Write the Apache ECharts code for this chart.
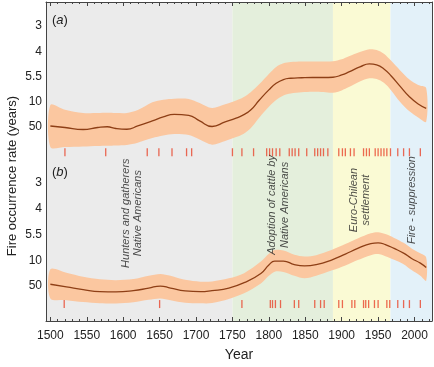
<!DOCTYPE html>
<html>
<head>
<meta charset="utf-8">
<script src="https://cdn.jsdelivr.net/npm/echarts@6/dist/echarts.min.js"></script>
<style>
  html, body { margin: 0; padding: 0; background: #fff; }
  #chart { width: 434px; height: 367px; }
</style>
</head>
<body>
<div id="chart"></div>
<script>
// x axis
const yearMin = 1494
const yearMax = 2024
const majorYears = [1500, 1550, 1600, 1650, 1700, 1750, 1800, 1850, 1900, 1950, 2000]
const minorYears = [1500, 1510, 1520, 1530, 1540, 1550, 1560, 1570, 1580, 1590, 1600, 1610, 1620, 1630, 1640, 1650, 1660, 1670, 1680, 1690, 1700, 1710, 1720, 1730, 1740, 1750, 1760, 1770, 1780, 1790, 1800, 1810, 1820, 1830, 1840, 1850, 1860, 1870, 1880, 1890, 1900, 1910, 1920, 1930, 1940, 1950, 1960, 1970, 1980, 1990, 2000, 2010, 2020]

// y axis: labels are evenly spaced, position 0..4
const yTickPos = [0, 1, 2, 3, 4]
const yTickLabels = ['50', '10', '5.5', '4', '3']

// periods (background)
const periodStart = [1494, 1750, 1888, 1967]
const periodEnd = [1750, 1888, 1967, 2024]

// panel (a)
const yearsA = [1500, 1520, 1545, 1565, 1578, 1590, 1605, 1620, 1640, 1655, 1670, 1690, 1705, 1722, 1740, 1755, 1765, 1775, 1787, 1800, 1810, 1820, 1830, 1845, 1860, 1875, 1888, 1900, 1910, 1925, 1938, 1948, 1958, 1968, 1980, 1993, 2005, 2016]
const lineA = [0.04, -0.02, -0.1, -0.02, 0.01, -0.06, -0.09, 0.04, 0.24, 0.4, 0.5, 0.46, 0.24, 0.02, 0.2, 0.35, 0.48, 0.67, 1.07, 1.47, 1.73, 1.88, 1.93, 1.95, 1.96, 1.96, 1.97, 2.06, 2.18, 2.38, 2.5, 2.46, 2.3, 2.02, 1.62, 1.2, 0.91, 0.74]
const upperA = [0.87, 0.68, 0.55, 0.55, 0.56, 0.55, 0.55, 0.67, 0.98, 1.08, 1.12, 1.11, 0.95, 0.75, 0.9, 1.05, 1.18, 1.38, 1.7, 2.1, 2.38, 2.52, 2.57, 2.59, 2.59, 2.59, 2.6, 2.68, 2.8, 2.97, 3.08, 3.05, 2.9, 2.62, 2.25, 1.88, 1.66, 1.54]
const lowerA = [-0.79, -0.79, -0.77, -0.75, -0.74, -0.73, -0.71, -0.62, -0.44, -0.34, -0.28, -0.32, -0.5, -0.7, -0.55, -0.4, -0.28, -0.05, 0.38, 0.8, 1.07, 1.25, 1.33, 1.38, 1.4, 1.39, 1.36, 1.45, 1.58, 1.8, 1.93, 1.9, 1.75, 1.45, 1.0, 0.62, 0.38, 0.21]
const fireYearsA = [1520, 1576, 1633, 1649, 1667, 1687, 1694, 1750, 1763, 1779, 1797, 1801, 1805, 1810, 1815, 1828, 1832, 1836, 1841, 1852, 1863, 1867, 1871, 1875, 1881, 1896, 1901, 1905, 1912, 1917, 1930, 1934, 1938, 1946, 1950, 1954, 1958, 1962, 1967, 1977, 1985, 1993, 2008]

// panel (b)
const yearsB = [1500, 1522, 1545, 1568, 1590, 1614, 1635, 1651, 1665, 1685, 1706, 1722, 1745, 1766, 1789, 1800, 1808, 1820, 1835, 1849, 1865, 1886, 1905, 1922, 1940, 1950, 1960, 1972, 1985, 1996, 2008, 2016]
const lineB = [0.07, -0.03, -0.14, -0.22, -0.23, -0.18, -0.08, 0.0, -0.08, -0.19, -0.22, -0.18, -0.08, 0.13, 0.49, 0.82, 0.97, 0.97, 0.83, 0.78, 0.83, 1.01, 1.24, 1.46, 1.65, 1.68, 1.61, 1.46, 1.28, 1.07, 0.89, 0.72]
const upperB = [0.65, 0.52, 0.36, 0.26, 0.23, 0.27, 0.4, 0.47, 0.4, 0.24, 0.17, 0.18, 0.3, 0.5, 0.95, 1.25, 1.4, 1.38, 1.22, 1.15, 1.2, 1.4, 1.63, 1.85, 2.05, 2.09, 2.02, 1.87, 1.68, 1.46, 1.27, 1.11]
const lowerB = [-0.48, -0.55, -0.62, -0.67, -0.68, -0.63, -0.53, -0.48, -0.55, -0.65, -0.67, -0.66, -0.5, -0.28, 0.1, 0.4, 0.56, 0.55, 0.4, 0.3, 0.4, 0.6, 0.8, 1.01, 1.2, 1.24, 1.16, 1.02, 0.85, 0.62, 0.4, 0.21]
const fireYearsB = [1519, 1650, 1763, 1802, 1805, 1809, 1816, 1835, 1841, 1863, 1871, 1876, 1896, 1901, 1914, 1918, 1930, 1933, 1937, 1945, 1950, 1962, 1966, 1977, 1985, 1993, 2008]

// period notes (drawn in panel b)
const noteTexts = ['Hunters and gatherers\nNative Americans', 'Adoption of cattle by\nNative Americans', 'Euro-Chilean\nsettlement', 'Fire - suppression']
const noteYears = [1612, 1813, 1925, 1996]
const noteLevels = [2.83, 3.15, 3.34, 3.34]

const FONT = 'Liberation Sans, Arial, Helvetica, sans-serif'
const periodColors = ['#ebebeb', '#e4efdc', '#fafad4', '#e3f1f9']
const bandColor = '#fbc7a0'
const lineColor = '#8e3f16'
const fireColor = '#e8452c'
const frameColor = '#444'

const myChart = echarts.init(document.getElementById('chart'), null, { renderer: 'canvas' })

function xAx(grid, pos, opt) {
  return Object.assign({
    type: 'value', gridIndex: grid, position: pos, min: yearMin, max: yearMax,
    axisLine: { show: false }, axisTick: { show: false }, axisLabel: { show: false },
    splitLine: { show: false }, z: 10
  }, opt)
}

// confidence band: one smooth polygon, upper edge then lower edge back
function bandSeries(xi, yi, years, lo, hi) {
  return {
    type: 'custom', xAxisIndex: xi, yAxisIndex: yi, silent: true, z: 2,
    data: [[years[0], hi[0]]],
    renderItem: (params, api) => {
      const top = years.map((y, i) => api.coord([y, hi[i]]))
      const bot = years.map((y, i) => api.coord([y, lo[i]])).reverse()
      return {
        type: 'polygon',
        shape: { points: top.concat(bot), smooth: 0.3 },
        style: { fill: bandColor }
      }
    }
  }
}

function yPanel(grid, min, max) {
  return {
    type: 'value', gridIndex: grid, min: min, max: max,
    axisLine: { show: false }, axisTick: { show: false }, splitLine: { show: false },
    axisLabel: {
      customValues: yTickPos, margin: 4, fontSize: 12, color: '#222', fontFamily: FONT,
      formatter: (v) => yTickLabels[Math.round(v)]
    }
  }
}

let option = {
  animation: false,
  grid: [
    { left: 46, right: 2, top: 2, height: 325 },
    { left: 46, right: 2, top: 2, height: 163 },
    { left: 46, right: 2, top: 165, height: 162 }
  ],
  xAxis: [
    xAx(0, 'bottom', {
      axisLine: { show: true, lineStyle: { color: frameColor, width: 1 } },
      axisTick: { show: true, inside: true, length: 4, customValues: majorYears, lineStyle: { color: frameColor } },
      axisLabel: { show: true, customValues: majorYears, margin: 9, fontSize: 12, color: '#222', fontFamily: FONT,
        formatter: (v) => String(v) },
      name: 'Year', nameLocation: 'middle', nameGap: 27,
      nameTextStyle: { fontSize: 14, color: '#222', fontFamily: FONT }
    }),
    xAx(0, 'bottom', {
      axisTick: { show: true, inside: true, length: 2, customValues: minorYears, lineStyle: { color: frameColor } }
    }),
    xAx(0, 'top', {
      axisLine: { show: true, lineStyle: { color: frameColor, width: 1 } },
      axisTick: { show: true, inside: true, length: 4, customValues: majorYears, lineStyle: { color: frameColor } }
    }),
    xAx(0, 'top', {
      axisTick: { show: true, inside: true, length: 2, customValues: minorYears, lineStyle: { color: frameColor } }
    }),
    xAx(1, 'bottom', {}),
    xAx(2, 'bottom', {})
  ],
  yAxis: [
    { type: 'value', gridIndex: 0, position: 'left', min: 0, max: 1, z: 10,
      axisLine: { show: true, lineStyle: { color: frameColor, width: 1 } },
      axisTick: { show: false }, axisLabel: { show: false }, splitLine: { show: false } },
    { type: 'value', gridIndex: 0, position: 'right', min: 0, max: 1, z: 10,
      axisLine: { show: true, lineStyle: { color: frameColor, width: 1 } },
      axisTick: { show: false }, axisLabel: { show: false }, splitLine: { show: false } },
    yPanel(1, -1.505, 4.95),
    yPanel(2, -1.59, 4.70)
  ],
  graphic: [
    { type: 'text', x: 12, y: 176, rotation: Math.PI / 2,
      style: { text: 'Fire occurrence rate (years)', font: '13px ' + FONT, fill: '#222', align: 'center', verticalAlign: 'middle' } },
    { type: 'text', x: 52, y: 20, z: 20,
      style: { text: '{p|(}{i|a}{p|)}', verticalAlign: 'middle',
        rich: { p: { font: '13px ' + FONT, fill: '#222' }, i: { font: 'italic 13px ' + FONT, fill: '#222' } } } },
    { type: 'text', x: 52, y: 172, z: 20,
      style: { text: '{p|(}{i|b}{p|)}', verticalAlign: 'middle',
        rich: { p: { font: '13px ' + FONT, fill: '#222' }, i: { font: 'italic 13px ' + FONT, fill: '#222' } } } }
  ],
  series: [
    {
      type: 'line', xAxisIndex: 0, yAxisIndex: 0, data: [], z: 1, silent: true,
      markArea: {
        silent: true,
        data: periodStart.map((s, i) => [
          { xAxis: s, itemStyle: { color: periodColors[i], opacity: 1 } },
          { xAxis: periodEnd[i] }
        ])
      }
    },
    bandSeries(4, 2, yearsA, lowerA, upperA),
    bandSeries(5, 3, yearsB, lowerB, upperB),
    {
      type: 'line', xAxisIndex: 4, yAxisIndex: 2, smooth: true, symbol: 'none', z: 3,
      data: yearsA.map((y, i) => [y, lineA[i]]),
      lineStyle: { color: lineColor, width: 1.3 }
    },
    {
      type: 'line', xAxisIndex: 5, yAxisIndex: 3, smooth: true, symbol: 'none', z: 3,
      data: yearsB.map((y, i) => [y, lineB[i]]),
      lineStyle: { color: lineColor, width: 1.3 }
    },
    {
      type: 'scatter', xAxisIndex: 4, yAxisIndex: 2, symbol: 'rect', symbolSize: [1.3, 8], z: 3,
      data: fireYearsA.map(y => [y, -1.0]),
      itemStyle: { color: fireColor }
    },
    {
      type: 'scatter', xAxisIndex: 5, yAxisIndex: 3, symbol: 'rect', symbolSize: [1.3, 8], z: 3,
      data: fireYearsB.map(y => [y, -0.7]),
      itemStyle: { color: fireColor }
    },
    {
      type: 'scatter', xAxisIndex: 5, yAxisIndex: 3, symbolSize: 1, z: 4, clip: false,
      data: noteYears.map((y, i) => ({ value: [y, noteLevels[i]], name: noteTexts[i] })),
      itemStyle: { color: 'transparent' },
      label: {
        show: true, position: 'inside', rotate: 90, formatter: (p) => p.name,
        fontSize: 11, fontStyle: 'italic', fontFamily: FONT, color: '#222',
        lineHeight: 12.5, align: 'center', verticalAlign: 'middle'
      }
    }
  ]
}

myChart.setOption(option)
</script>
</body>
</html>
